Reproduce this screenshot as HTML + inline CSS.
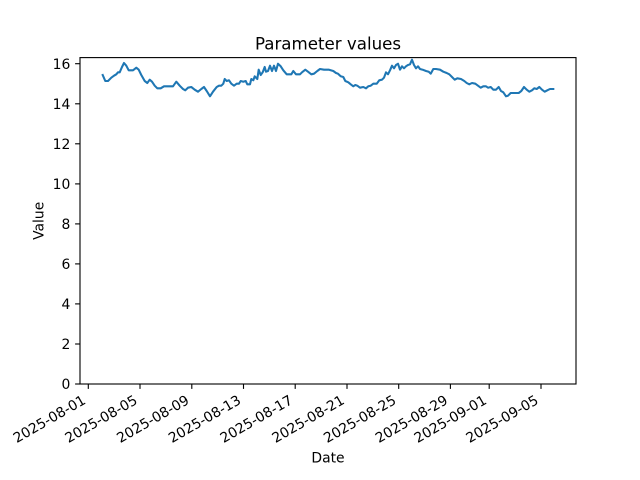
<!DOCTYPE html>
<html>
<head>
<meta charset="utf-8">
<style>
html,body{margin:0;padding:0;background:#fff;}
svg{display:block;}
text{font-family:"DejaVu Sans","Liberation Sans",sans-serif;fill:#000;}
</style>
</head>
<body>
<svg width="640" height="480" viewBox="0 0 640 480" xmlns="http://www.w3.org/2000/svg">
<rect x="0" y="0" width="640" height="480" fill="#fff"/>
<!-- data line -->
<polyline fill="none" stroke="#1f77b4" stroke-width="2.08" stroke-linejoin="round" stroke-linecap="square"
points="102.7,75 105.3,81 108,81 111.3,77.7 114,75.7 116.3,74.3 118,72.3 119.7,72.3 122,67 124,63 126.3,65.7 128.7,70.3 133,70.3 136.3,67.7 138.7,69.7 141.3,75 144.7,81 147.3,83 149.7,79.7 152,81.7 154.7,85.7 157.3,88.3 160.7,88.3 164,86.3 168,86.3 173,86.3 176.3,81.7 179.7,85.7 183,89 185.3,90.3 188,87.7 191.3,87 194.7,89.7 198,91.7 201.3,89 204,87 206.7,91 210,96.3 213,91.7 216.7,87 219,85.7 221.3,85.7 223.3,83.7 224.7,79 226.7,81 229,80.3 231.3,83.7 234,85.7 236.7,83.7 239,83.7 240.7,81 243.3,81.7 245.7,81 247.3,84.3 250,84.3 251.3,79 253.3,80.3 254.7,76.3 257.3,79 258.7,69.7 260.7,75 262.7,72.3 264.7,67 266,71.7 268,71 270,65.7 272,71 274,65.7 276,71 278,63.7 280.7,66.3 283.3,70.3 286.7,74.3 291.3,74.3 293.3,71 296,74.3 300,74.3 302,72.3 305.3,69.7 308,71.7 311.3,74.3 314,73.7 317.3,71 320,69 324,69.7 329,69.7 333.3,71 336,73 338,73.7 340.7,76.3 343.3,77 345.3,81 348.3,82.3 350.7,84.3 353.3,86.3 355.3,85 357.3,85.7 360,87.7 363.3,87 366,88.3 368.3,86.3 370.7,85.7 373.3,83.7 376.7,83.7 379.3,80.3 382,79.7 384,77.7 386,72.3 388,74.3 390,70.3 392,65.7 394,68.3 396,65 398,63.7 400,69.7 402,66.3 404,68.3 406,66.3 408,65 410,64.3 412,59.7 414,65 416,68.3 418,66.3 420,69 422.7,69.7 426,71 428.7,71.7 430.7,73.7 433.3,69 436,69 440,69.7 443.3,71.7 446.7,73 449.3,74.3 452,77 454.7,79.7 457.3,78.3 461,79 464.3,81 466.7,83 469.3,84.3 472,83 475.3,83.7 478,85.7 480.7,87.7 483.3,86.3 486,86.3 488,87.7 490.7,87 493.3,89.7 496,89.7 498.7,87 501,91 503.3,92.3 506,96.3 508,95.7 510.7,93 514.3,93 518.7,93 521.3,91 524,87 526.7,89.7 529.3,91.7 532,90.3 534.3,88.3 536.7,89 539.3,87 542,89.7 544.7,91.7 547.3,90.3 550,89 553.3,89"/>
<!-- axes frame -->
<rect x="80" y="57.6" width="496" height="326.4" fill="none" stroke="#000" stroke-width="1.11"/>
<!-- y ticks -->
<g stroke="#000" stroke-width="1.11">
<line x1="75.1" y1="384" x2="80" y2="384"/>
<line x1="75.1" y1="344" x2="80" y2="344"/>
<line x1="75.1" y1="303.9" x2="80" y2="303.9"/>
<line x1="75.1" y1="263.9" x2="80" y2="263.9"/>
<line x1="75.1" y1="223.9" x2="80" y2="223.9"/>
<line x1="75.1" y1="183.9" x2="80" y2="183.9"/>
<line x1="75.1" y1="143.8" x2="80" y2="143.8"/>
<line x1="75.1" y1="103.8" x2="80" y2="103.8"/>
<line x1="75.1" y1="63.7" x2="80" y2="63.7"/>
</g>
<g font-size="13.9" text-anchor="end">
<text x="70.3" y="389.1">0</text>
<text x="70.3" y="349.1">2</text>
<text x="70.3" y="309">4</text>
<text x="70.3" y="269">6</text>
<text x="70.3" y="229">8</text>
<text x="70.3" y="189">10</text>
<text x="70.3" y="148.9">12</text>
<text x="70.3" y="108.9">14</text>
<text x="70.3" y="68.8">16</text>
</g>
<!-- x ticks -->
<g stroke="#000" stroke-width="1.11">
<line x1="88.3" y1="384" x2="88.3" y2="388.9"/>
<line x1="140" y1="384" x2="140" y2="388.9"/>
<line x1="191.8" y1="384" x2="191.8" y2="388.9"/>
<line x1="243.5" y1="384" x2="243.5" y2="388.9"/>
<line x1="295.2" y1="384" x2="295.2" y2="388.9"/>
<line x1="347" y1="384" x2="347" y2="388.9"/>
<line x1="398.7" y1="384" x2="398.7" y2="388.9"/>
<line x1="450.4" y1="384" x2="450.4" y2="388.9"/>
<line x1="489.2" y1="384" x2="489.2" y2="388.9"/>
<line x1="541" y1="384" x2="541" y2="388.9"/>
</g>
<g font-size="13.9" text-anchor="end">
<text transform="translate(86.7,402.9) rotate(-30)">2025-08-01</text>
<text transform="translate(138.4,402.9) rotate(-30)">2025-08-05</text>
<text transform="translate(190.2,402.9) rotate(-30)">2025-08-09</text>
<text transform="translate(241.9,402.9) rotate(-30)">2025-08-13</text>
<text transform="translate(293.6,402.9) rotate(-30)">2025-08-17</text>
<text transform="translate(345.4,402.9) rotate(-30)">2025-08-21</text>
<text transform="translate(397.1,402.9) rotate(-30)">2025-08-25</text>
<text transform="translate(448.8,402.9) rotate(-30)">2025-08-29</text>
<text transform="translate(487.6,402.9) rotate(-30)">2025-09-01</text>
<text transform="translate(539.4,402.9) rotate(-30)">2025-09-05</text>
</g>
<!-- labels -->
<text x="328" y="462.3" font-size="13.9" text-anchor="middle">Date</text>
<text transform="translate(43.5,220.8) rotate(-90)" font-size="13.9" text-anchor="middle">Value</text>
<text x="328" y="49.5" font-size="16.67" text-anchor="middle">Parameter values</text>
</svg>
</body>
</html>
